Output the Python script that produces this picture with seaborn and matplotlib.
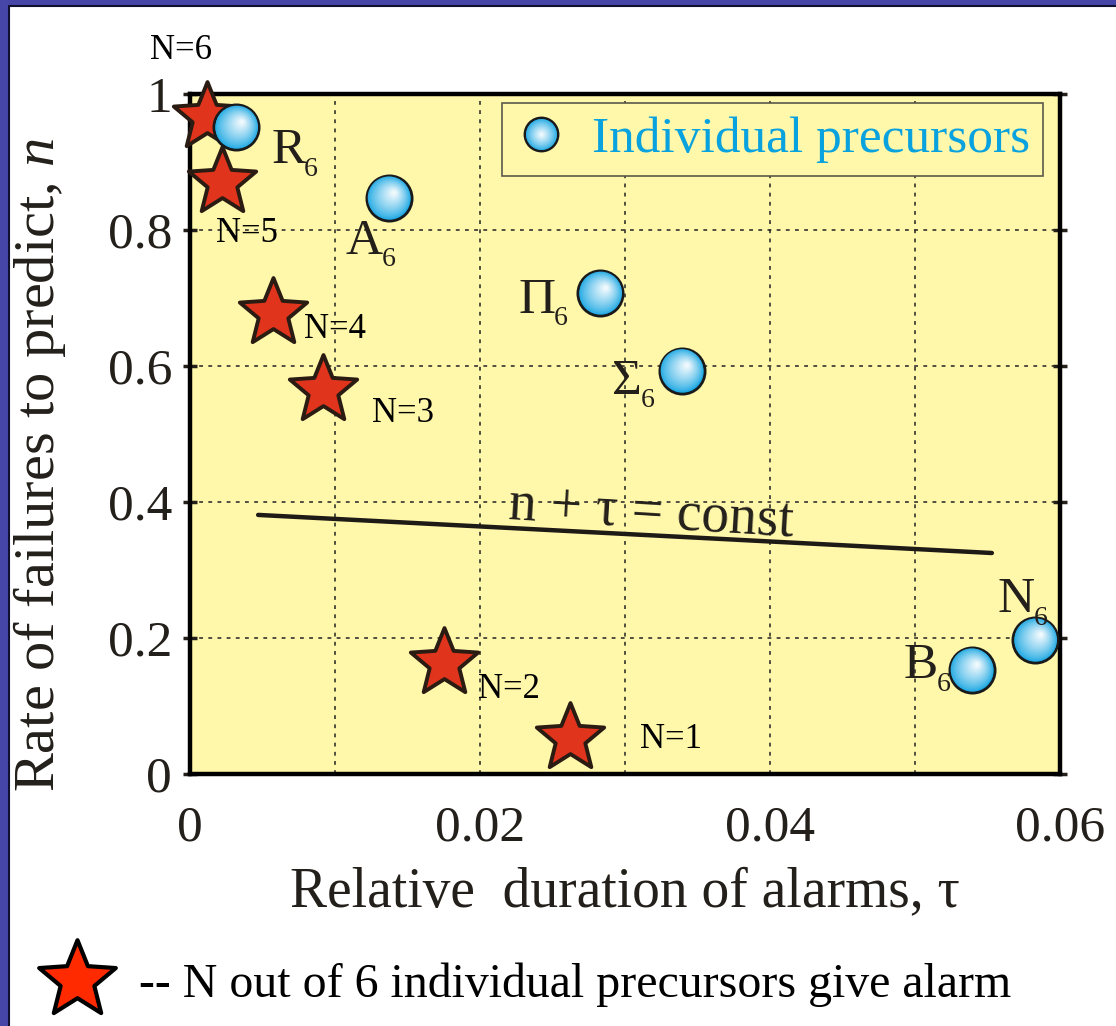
import numpy as np
import pandas as pd
import seaborn as sns
import matplotlib.pyplot as plt
from matplotlib.path import Path
from matplotlib.lines import Line2D
from matplotlib.patches import Rectangle
from matplotlib.transforms import offset_copy
from matplotlib.legend_handler import HandlerTuple
from matplotlib.colors import to_rgb

# Combined alarms: N out of 6 precursors give an alarm
star_n = [6, 5, 4, 3, 2, 1]
star_tau = [0.0012, 0.0022, 0.0057, 0.0092, 0.0175, 0.0262]
star_rate = [0.966, 0.870, 0.678, 0.565, 0.163, 0.053]

# Individual precursors
prec_names = ["R", "A", "Π", "Σ", "B", "N"]
prec_tau = [0.0032, 0.0137, 0.0283, 0.0339, 0.0539, 0.0583]
prec_rate = [0.951, 0.847, 0.707, 0.593, 0.153, 0.197]

# Line n + tau = const
const_tau = [0.0047, 0.0553]
const_rate = [0.381, 0.325]

x_ticks = [0, 0.01, 0.02, 0.03, 0.04, 0.05, 0.06]
x_ticklabels = ["0", "", "0.02", "", "0.04", "", "0.06"]
y_ticks = [0, 0.2, 0.4, 0.6, 0.8, 1.0]
y_ticklabels = ["0", "0.2", "0.4", "0.6", "0.8", "1"]

stars = pd.DataFrame({"N": star_n, "tau": star_tau, "rate": star_rate})
prec = pd.DataFrame({"name": prec_names, "tau": prec_tau, "rate": prec_rate})
const = pd.DataFrame({"tau": const_tau, "rate": const_rate})

sns.set_theme(style="white")
plt.rcParams["font.family"] = ["Liberation Serif", "DejaVu Serif"]
plt.rcParams["mathtext.fontset"] = "custom"
plt.rcParams["mathtext.rm"] = "Liberation Serif"
plt.rcParams["mathtext.it"] = "Liberation Serif:italic"
plt.rcParams["mathtext.bf"] = "Liberation Serif:bold"

TXT = "#231f1a"
YELLOW = "#fff7aa"
STAR_RED = "#e0341c"
BALL_EDGE = "#18a6e2"
BALL_CENTER = "#ffffff"


def star_path(inner=0.44):
    ang = np.pi / 2 + np.arange(10) * np.pi / 5
    r = np.where(np.arange(10) % 2 == 0, 1.0, inner)
    verts = np.column_stack([r * np.cos(ang), r * np.sin(ang)])
    verts = np.vstack([verts, verts[:1]])
    codes = [Path.MOVETO] + [Path.LINETO] * 9 + [Path.CLOSEPOLY]
    return Path(verts, codes)


def blend(f):
    a = np.array(to_rgb(BALL_EDGE))
    b = np.array(to_rgb(BALL_CENTER))
    t = (1 - f) ** 0.8
    return tuple(a + (b - a) * t)


STAR = star_path()

fig = plt.figure(figsize=(11.16, 10.26), dpi=100)
fig.patch.set_facecolor("white")
ax = fig.add_axes([190 / 1116, 1 - 774 / 1026, 870 / 1116, 680 / 1026])
ax.set_facecolor(YELLOW)

ax.set_xlim(0, 0.06)
ax.set_ylim(0, 1)
ax.set_xticks(x_ticks, x_ticklabels)
ax.set_yticks(y_ticks, y_ticklabels)
ax.grid(True, color="#222222", linestyle=(0, (2.5, 3.5)), linewidth=1.1)
ax.set_axisbelow(True)
for side, sp in ax.spines.items():
    sp.set_visible(True)
    sp.set_color("black")
    sp.set_linewidth(3.2)
ax.tick_params(axis="x", which="both", length=0, pad=22, labelsize=37, colors=TXT)
ax.tick_params(axis="y", which="both", direction="inout", length=10, width=2.5,
               pad=8, labelsize=37, colors=TXT, left=True, right=True)

# n + tau = const line
sns.lineplot(data=const, x="tau", y="rate", ax=ax, color="#1e1a16",
             linewidth=3.2, zorder=3)
ax.text(0.0318, 0.383, "n + τ = const", fontsize=40, color=TXT,
        ha="center", va="center", rotation=-3.5, zorder=4)

# Combined-alarm stars
sns.scatterplot(data=stars, x="tau", y="rate", ax=ax, marker=STAR, s=2600,
                color=STAR_RED, edgecolor="#2a1c12", linewidth=2.8, zorder=5,
                legend=False)

star_offsets = {6: (-19, 48), 5: (18, -37), 4: (45, -12), 3: (57, -17),
                2: (47, -19), 1: (73, -1)}
for n, t, r in zip(star_n, star_tau, star_rate):
    ax.annotate(f"N={n}", (t, r), xytext=star_offsets[n],
                textcoords="offset points", ha="center", va="center",
                fontsize=25, color="black", zorder=6, annotation_clip=False)

# Shaded spheres for the individual precursors
BALL_S = 1060
sns.scatterplot(data=prec, x="tau", y="rate", ax=ax, marker="o", s=BALL_S,
                color=BALL_EDGE, edgecolor="#1a1a1a", linewidth=2.0, zorder=7,
                legend=False)
levels = np.linspace(0.94, 0.08, 18)
for k, f in enumerate(levels):
    d = (1 - f) * 6
    tr = offset_copy(ax.transData, fig=fig, x=d, y=d, units="dots")
    sns.scatterplot(data=prec, x="tau", y="rate", ax=ax, marker="o",
                    s=BALL_S * f * f, color=blend(f), edgecolor="none",
                    linewidth=0, zorder=8 + k * 0.01, legend=False, transform=tr)

prec_offsets = {"R": (25, -26), "A": (-31, -40), "Π": (-59, -14),
                "Σ": (-50, -17), "B": (-49, -6), "N": (-27, 20)}
for nm, t, r in zip(prec_names, prec_tau, prec_rate):
    letter = ax.annotate(nm, (t, r), xytext=prec_offsets[nm],
                         textcoords="offset points", ha="left", va="baseline",
                         fontsize=37, color=TXT, zorder=15,
                         annotation_clip=False)
    ax.annotate("6", xy=(1, 0), xycoords=letter, xytext=(-1, -1),
                textcoords="offset points", ha="left", va="baseline",
                fontsize=20, color=TXT, zorder=15, annotation_clip=False)

for coll in ax.collections:
    coll.set_clip_on(False)

# Legend for the spheres
LEG_MS = 24
ball_layers = [Line2D([], [], marker="o", linestyle="none", markersize=LEG_MS,
                      markerfacecolor=BALL_EDGE, markeredgecolor="#1a1a1a",
                      markeredgewidth=1.8)]
for f in np.linspace(0.92, 0.1, 14):
    ball_layers.append(Line2D([], [], marker="o", linestyle="none",
                              markersize=LEG_MS * f, markerfacecolor=blend(f),
                              markeredgewidth=0))
leg = ax.legend([tuple(ball_layers)], ["Individual precursors"],
                handler_map={tuple: HandlerTuple(ndivide=1, pad=0)},
                loc="upper right", bbox_to_anchor=(0.9805, 0.9868),
                borderaxespad=0, fontsize=37, frameon=True, fancybox=False,
                framealpha=1, facecolor=YELLOW, edgecolor="#5a5a4a",
                handlelength=1.0, handletextpad=0.5, borderpad=0.25)
leg.get_frame().set_linewidth(1.2)
for txt in leg.get_texts():
    txt.set_color("#08a2de")
leg.set_zorder(20)

ax.set_xlabel("Relative  duration of alarms, τ", fontsize=40, color=TXT)
ax.set_ylabel("Rate of failures to predict, $n$", fontsize=42, color=TXT)
ax.xaxis.set_label_coords(0.5, -0.135)
ax.yaxis.set_label_coords(-0.14, 0.455)

# Key for the stars
star_handle = Line2D([], [], marker=STAR, linestyle="none", markersize=58,
                     markerfacecolor="#ff2a00", markeredgecolor="black",
                     markeredgewidth=3)
fig.legend([star_handle], ["-- N out of 6 individual precursors give alarm"],
           loc="center left", bbox_to_anchor=(53 / 1116, 1 - 985 / 1026),
           frameon=False, fontsize=34.5, handlelength=1.0, handletextpad=0.8,
           labelcolor="black", borderaxespad=0, borderpad=0)

# Slide frame
fig.patches.append(Rectangle((0, 0), 8 / 1116, 1, transform=fig.transFigure,
                             facecolor="#4646a8", edgecolor="none", zorder=0))
fig.patches.append(Rectangle((0, 1 - 5 / 1026), 1, 5 / 1026,
                             transform=fig.transFigure, facecolor="#4646a8",
                             edgecolor="none", zorder=0))
fig.add_artist(Line2D([9 / 1116, 9 / 1116], [0, 1 - 6 / 1026],
                      transform=fig.transFigure, color="#101030", linewidth=1.5))
fig.add_artist(Line2D([9 / 1116, 1], [1 - 6 / 1026, 1 - 6 / 1026],
                      transform=fig.transFigure, color="#101030", linewidth=1.5))

fig.savefig("out.png", dpi=100)
